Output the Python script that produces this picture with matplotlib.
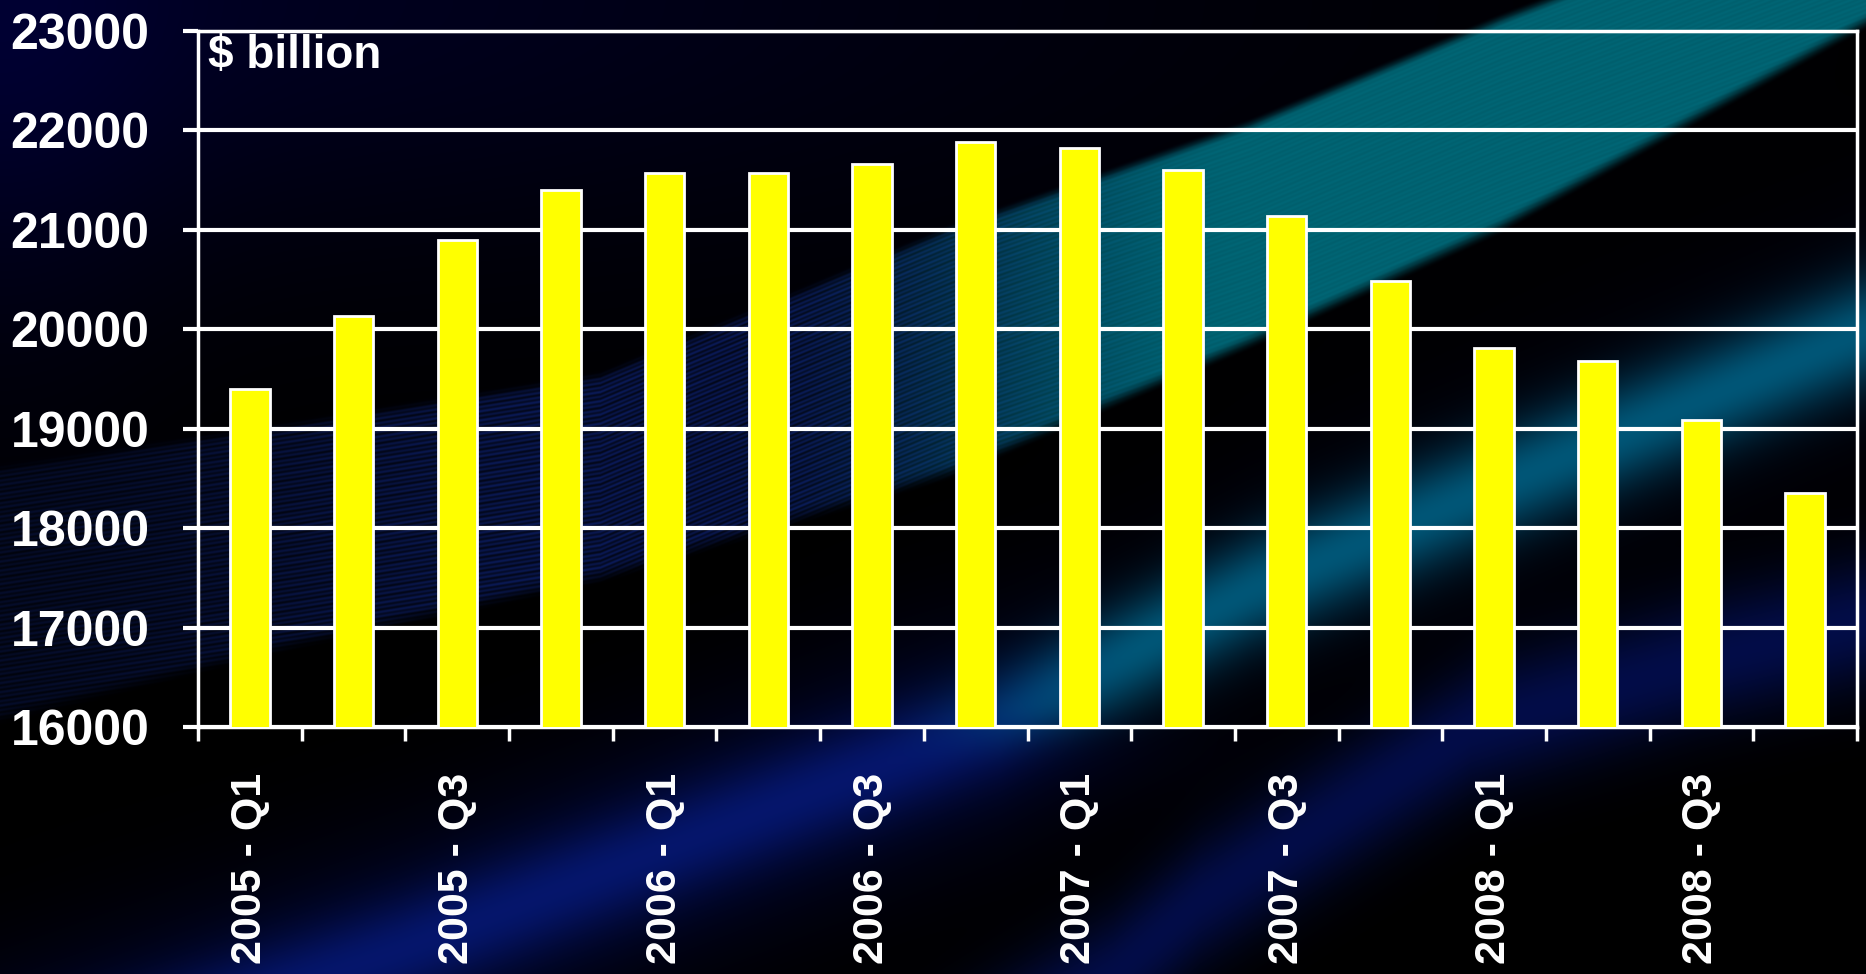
import numpy as np
import matplotlib
matplotlib.use("Agg")
import matplotlib.pyplot as plt

# ---------------- data ----------------
categories = ["2005 - Q1", "2005 - Q2", "2005 - Q3", "2005 - Q4",
              "2006 - Q1", "2006 - Q2", "2006 - Q3", "2006 - Q4",
              "2007 - Q1", "2007 - Q2", "2007 - Q3", "2007 - Q4",
              "2008 - Q1", "2008 - Q2", "2008 - Q3", "2008 - Q4"]
values = [19400, 20130, 20900, 21400, 21570, 21570, 21660, 21880,
          21820, 21600, 21140, 20490, 19810, 19680, 19090, 18350]
y_ticks = [16000, 17000, 18000, 19000, 20000, 21000, 22000, 23000]
unit_label = "$ billion"

plt.rcParams['font.family'] = ['Liberation Sans', 'DejaVu Sans']
plt.rcParams['font.weight'] = 'bold'

W, H = 1866, 974
fig = plt.figure(figsize=(W / 100, H / 100), dpi=100)
fig.patch.set_facecolor('black')

# ---------------- decorative background ----------------
Y, X = np.mgrid[0:H, 0:W].astype(float)
xcol = X[0]


def smooth(e0, e1, v):
    t = np.clip((v - e0) / (e1 - e0), 0, 1)
    return t * t * (3 - 2 * t)


img = np.zeros((H, W, 3))


def add(weight, color):
    global img
    img += weight[..., None] * np.array(color)[None, None, :]


# navy glow top-left
add(np.exp(-(Y / 260) ** 2) * np.exp(-(X / 1100) ** 2), (0.0, 0.0, 0.13))
add(np.exp(-(X / 170) ** 2) * np.exp(-(Y / 420) ** 2), (0.0, 0.0, 0.07))

# band B (glow: navy-blue below the axis, teal inside the plot)
cB = np.interp(xcol, [0, 400, 1000, 1250, 1866], [1090, 950, 720, 590, 330])[None, :]
dB = Y - cB
tB = smooth(850, 1150, X) * (1 - smooth(700, 780, Y))
add(np.exp(-(dB / 120) ** 2) * (1 - 0.6 * tB), (0.0, 0.015, 0.16))
coreB = np.exp(-(dB / 55) ** 2)
blueB = np.array((0.02, 0.07, 0.26))
tealB = np.array((0.0, 0.33, 0.40))
img += coreB[..., None] * ((1 - tB)[..., None] * blueB + tB[..., None] * tealB)

# band Q (navy glow lower right)
cQ = np.interp(xcol, [0, 900, 1113, 1200, 1470, 1700, 1866],
               [1500, 1100, 974, 900, 730, 660, 620])[None, :]
dQ = Y - cQ
add(np.exp(-(dQ / 65) ** 2), (0.01, 0.05, 0.28))

# band A (streaky band, blue -> teal)
xsA = [0, 300, 600, 950, 1250, 1500, 1866]
upA = np.interp(xcol, xsA, [470, 425, 377, 230, 125, 20, -120])[None, :]
loA = np.interp(xcol, xsA, [715, 640, 575, 470, 340, 225, 20])[None, :]
maskA = smooth(upA - 8, upA + 8, Y) * (1 - smooth(loA - 10, loA + 10, Y))
tA = smooth(750, 1250, X)
streak = 0.65 + 0.25 * np.sin(2 * np.pi * (Y - upA) / 4.5) + 0.1 * np.sin(2 * np.pi * (Y - upA) / 11)
fade = 0.5 + 0.5 * smooth(0, 600, X)
blueA = np.array((0.04, 0.10, 0.34))
tealA = np.array((0.0, 0.40, 0.46))
colA = ((1 - tA) * streak * fade)[..., None] * blueA + (tA * (0.9 + 0.1 * streak))[..., None] * tealA
img = img * (1 - maskA[..., None]) + maskA[..., None] * colA

img = np.clip(img, 0, 1)

bg = fig.add_axes([0, 0, 1, 1], zorder=0)
bg.imshow(img, aspect='auto', interpolation='bilinear')
bg.set_axis_off()

# ---------------- chart ----------------
left, right, top, bottom = 198, 1857, 31, 727
ax = fig.add_axes([left / W, (H - bottom) / H, (right - left) / W, (bottom - top) / H], zorder=1)
ax.patch.set_alpha(0)

x = np.arange(len(categories))
ax.bar(x, values, width=0.38, color='#ffff00', edgecolor='white', linewidth=2, zorder=3)

ax.set_xlim(-0.5, len(categories) - 0.5)
ax.set_ylim(y_ticks[0], y_ticks[-1])
ax.set_yticks(y_ticks)
ax.set_yticklabels([str(v) for v in y_ticks])
ax.yaxis.grid(True, color='white', linewidth=3)
ax.set_axisbelow(True)
ax.tick_params(axis='y', colors='white', length=11, width=3, pad=24, labelsize=36, direction='out')

ax.set_xticks(x)
ax.set_xticklabels([c if i % 2 == 0 else '' for i, c in enumerate(categories)], rotation=90)
ax.tick_params(axis='x', which='major', length=0, pad=33, labelsize=31, colors='white')
ax.set_xticks(np.arange(-0.5, len(categories), 1.0), minor=True)
ax.tick_params(axis='x', which='minor', length=10, width=2.5, color='white', direction='out')

for s in ax.spines.values():
    s.set_color('white')
    s.set_linewidth(2.5)

ax.text(0.006, 0.947, unit_label, transform=ax.transAxes, fontsize=33,
        fontweight='bold', color='white', va='baseline', ha='left')

fig.savefig('out.png', dpi=100, facecolor=fig.get_facecolor())
